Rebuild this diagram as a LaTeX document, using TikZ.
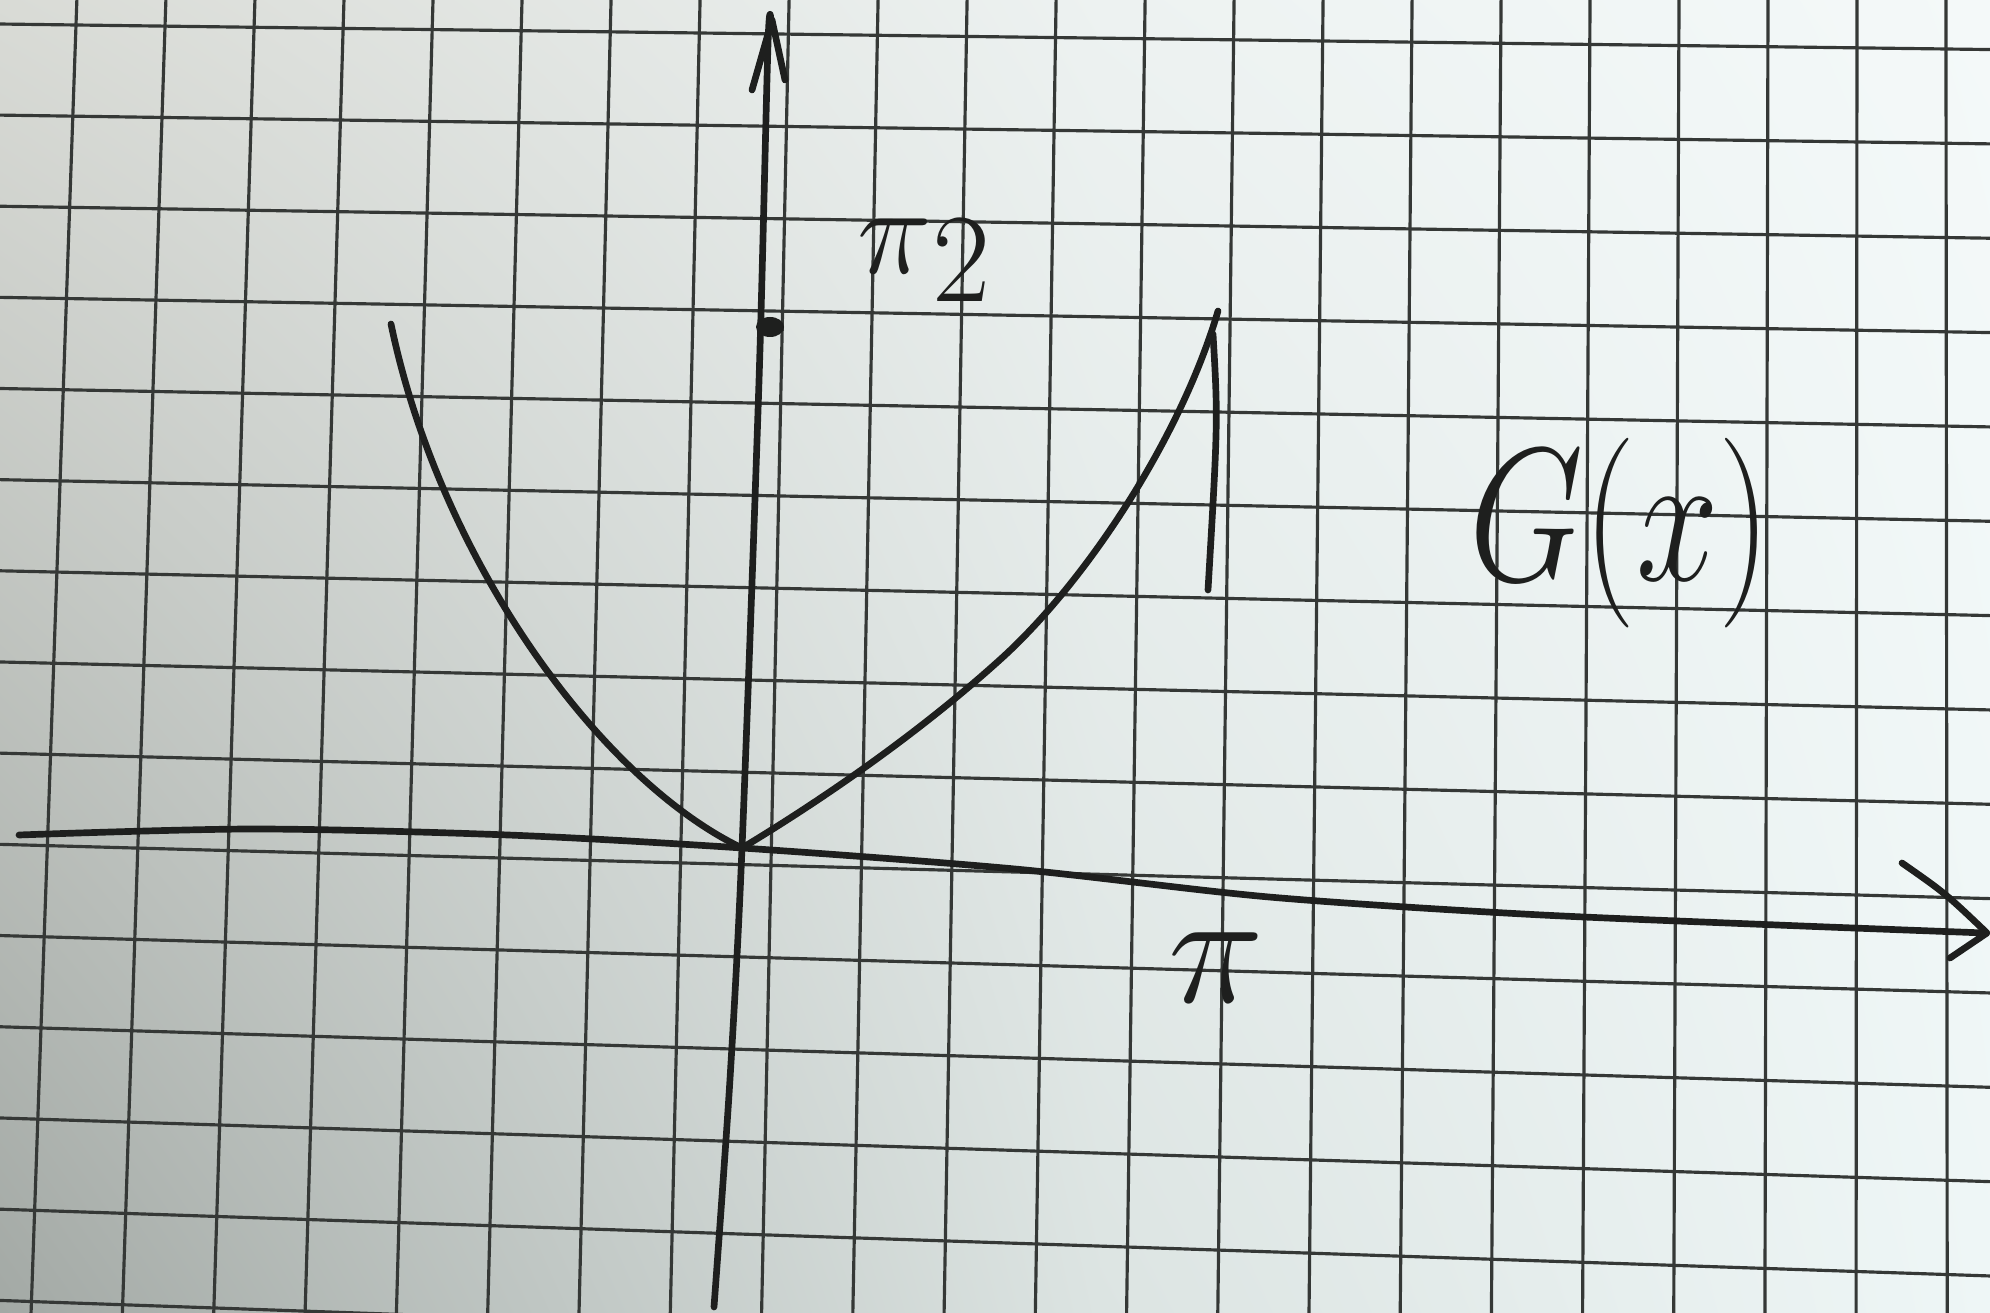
\RequirePackage{fix-cm}
\documentclass[tikz,border=0pt]{standalone}
\usetikzlibrary{calc, shadings}
\definecolor{cink}{HTML}{1E1F1E}
\definecolor{cgrid}{HTML}{353836}
\definecolor{cpaperTL}{HTML}{D9DBD6}
\definecolor{cpaperBL}{HTML}{A3A9A5}
\definecolor{cpaperTM}{HTML}{EDF2F1}
\definecolor{cpaperBM}{HTML}{DCE4E2}
\definecolor{cpaperTR}{HTML}{F4F9F9}
\definecolor{cpaperBR}{HTML}{EEF6F6}
\tikzset{
  ink/.style={draw=cink, line width=1.9pt, line cap=round, line join=round},
  gridline/.style={draw=cgrid, line width=0.9pt},
  hand/.style={text=cink, inner sep=0pt},
}

\begin{document}
\begin{tikzpicture}[x=0.01cm, y=-0.01cm]
  \useasboundingbox (0,0) rectangle (1990,1313);
  % paper, with the shadow on the left
  \shade[upper left=cpaperTL, lower left=cpaperBL, upper right=cpaperTM, lower right=cpaperBM] (0,0) rectangle (1101,1313);
  \shade[upper left=cpaperTM, lower left=cpaperBM, upper right=cpaperTR, lower right=cpaperBR] (1100,0) rectangle (1990,1313);
  % squared paper, a bit skewed as in the photo
  \coordinate (g00) at (76,25);
  \coordinate (g10) at (1946,49);
  \coordinate (g01) at (41,1028);
  \coordinate (g11) at (1947,1086);
  \begin{scope}
    \clip (0,0) rectangle (1990,1313);
    \foreach \u in {-1,...,22} {
      \draw[gridline] ($ ($(g00)!\u/21!(g10)$)!-0.1!($(g01)!\u/21!(g11)$) $) -- ($ ($(g00)!\u/21!(g10)$)!1.4!($(g01)!\u/21!(g11)$) $);
    }
    \foreach \v in {-1,...,14} {
      \draw[gridline] ($ ($(g00)!\v/11!(g01)$)!-0.1!($(g10)!\v/11!(g11)$) $) -- ($ ($(g00)!\v/11!(g01)$)!1.1!($(g10)!\v/11!(g11)$) $);
    }
  \end{scope}

  \coordinate (origin) at (742,848);
  \coordinate (xtip) at (1987,933);
  \coordinate (ytip) at (772,20);
  % axes
  \draw[ink] plot[smooth] coordinates {(19,835) (254,829) (508,835) (742,848) (1015,869) (1269,897) (1523,914) (1777,925) (1985,933)};
  \draw[ink] (1902,863) .. controls (1945,893) .. (xtip) -- (1950,958);
  \draw[ink] plot[smooth] coordinates {(714,1307) (730,1079) (742,848) (759,381) (768,44) (771,22)};
  \draw[ink] (752,90) -- (ytip) -- (785,80);

  % the graph of G
  \draw[ink] (391,324) .. controls (440,560) and (600,780) .. (origin);
  \coordinate (bend) at (1003,657);
  \draw[ink] (origin) .. controls (830,795) and (925,728) .. (bend)
    .. controls (1085,582) and (1180,440) .. (1218,311);
  \coordinate (top) at (1213,334);
  \draw[ink] (top) .. controls (1218,420) .. (1208,590);

  \coordinate (pisq) at (770,327);
  \fill[cink] (pisq) ellipse [x radius=14, y radius=10];

  \node[hand, font=\fontsize{36}{40}\selectfont] (lblpisq) at (924,260) {$\pi$\raisebox{-0.22em}{2}};
  \node[hand, font=\fontsize{46}{50}\selectfont] (lblpi) at (1216,968) {$\pi$};
  \node[hand, font=\fontsize{54}{60}\selectfont] (lblG) at (1620,533) {\scalebox{0.78}[1]{$G(x)$}};
\end{tikzpicture}
\end{document}
